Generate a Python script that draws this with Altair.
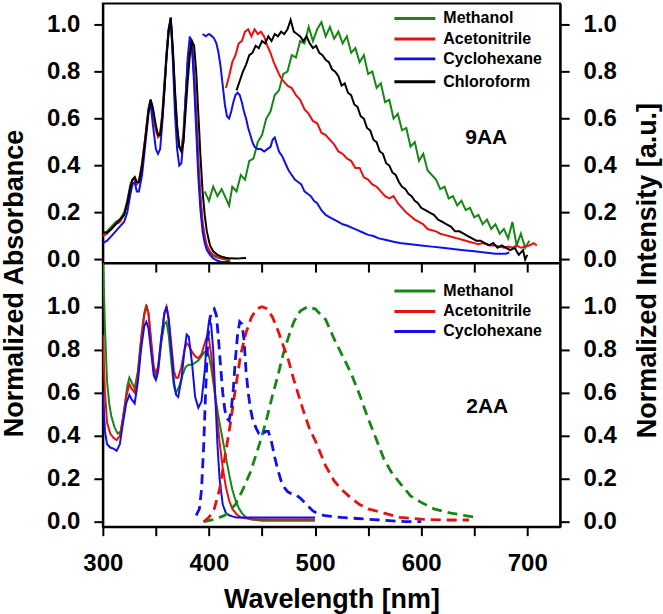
import altair as alt
import pandas as pd

FONT = "Liberation Sans"

SOLVENTS_9AA = ["Methanol", "Acetonitrile", "Cyclohexane", "Chloroform"]
SOLVENTS_2AA = ["Methanol", "Acetonitrile", "Cyclohexane"]
COLORS = ["#178617", "#e81010", "#1010e8", "#000000"]

X_TICKS = [300, 350, 400, 450, 500, 550, 600, 650, 700]
Y_TICKS = [0.0, 0.2, 0.4, 0.6, 0.8, 1.0]

# ---------------- 9AA absorption ----------------
ABS9_WL = [300, 304, 308, 312, 316, 320, 323, 326, 328, 330, 332, 334, 337, 340, 343,
           345, 347, 350, 352, 354, 356, 358, 360, 362, 364, 366, 368, 370, 372, 374,
           376, 378, 380, 382, 384, 386, 388, 390, 392, 394, 396, 398, 401, 404, 408,
           412, 416, 420]
ABS9_METHANOL = [0.11, 0.12, 0.14, 0.16, 0.17, 0.20, 0.25, 0.32, 0.34, 0.35, 0.32, 0.33, 0.41, 0.52, 0.64,
                 0.68, 0.63, 0.56, 0.53, 0.54, 0.62, 0.75, 0.88, 0.98, 1.02, 0.87, 0.69, 0.55, 0.48, 0.47,
                 0.54, 0.69, 0.84, 0.92, 0.91, 0.78, 0.60, 0.40, 0.25, 0.15, 0.09, 0.055, 0.03, 0.015, 0.008,
                 0.004, 0.0, -0.005]
ABS9_ACETONITRILE = [0.10, 0.11, 0.13, 0.15, 0.16, 0.19, 0.24, 0.31, 0.34, 0.35, 0.32, 0.33, 0.41, 0.52, 0.64,
                     0.68, 0.63, 0.55, 0.52, 0.53, 0.61, 0.74, 0.87, 0.98, 1.02, 0.88, 0.70, 0.56, 0.48, 0.46,
                     0.53, 0.68, 0.83, 0.92, 0.92, 0.80, 0.62, 0.42, 0.27, 0.16, 0.10, 0.06, 0.035, 0.02, 0.01,
                     0.005, 0.0, 0.0]
ABS9_CYCLOHEXANE = [0.07, 0.08, 0.10, 0.12, 0.14, 0.16, 0.20, 0.28, 0.32, 0.33, 0.29, 0.29, 0.36, 0.49, 0.62,
                    0.67, 0.58, 0.47, 0.45, 0.47, 0.58, 0.72, 0.86, 0.98, 1.03, 0.85, 0.62, 0.47, 0.40, 0.41,
                    0.51, 0.69, 0.86, 0.95, 0.91, 0.75, 0.55, 0.35, 0.21, 0.12, 0.07, 0.04, 0.02, 0.005, -0.005,
                    -0.01, -0.01, -0.01]
ABS9_CHL_WL = ABS9_WL + [425, 430, 435]
ABS9_CHLOROFORM = [0.115, 0.115, 0.13, 0.15, 0.17, 0.19, 0.24, 0.31, 0.34, 0.35, 0.33, 0.33, 0.40, 0.51, 0.63,
                   0.68, 0.65, 0.57, 0.53, 0.53, 0.60, 0.72, 0.86, 0.97, 1.03, 0.90, 0.72, 0.57, 0.48, 0.46,
                   0.50, 0.63, 0.76, 0.87, 0.93, 0.91, 0.80, 0.62, 0.44, 0.29, 0.19, 0.12, 0.06, 0.035, 0.02,
                   0.012, 0.008, 0.005, 0.004, 0.005, 0.007]

# ---------------- 9AA emission ----------------
EM9_METHANOL_WL = [396, 400, 404, 408, 412, 416, 419, 422, 426, 430, 434, 438, 442, 446, 450, 454, 458, 462,
                   466, 470, 474, 478, 482, 486, 490, 494, 498, 502, 506, 510, 514, 518, 522, 526, 530, 534,
                   538, 542, 546, 550, 554, 558, 562, 566, 570, 574, 578, 582, 586, 590, 594, 598, 602, 606,
                   610, 614, 618, 622, 626, 630, 634, 638, 642, 646, 650, 654, 658, 662, 666, 670, 674, 678,
                   682, 686, 690, 694, 698, 702]
EM9_METHANOL = [0.29, 0.25, 0.31, 0.27, 0.30, 0.26, 0.23, 0.31, 0.29, 0.36, 0.34, 0.42, 0.43, 0.50, 0.53, 0.60,
                0.63, 0.70, 0.72, 0.79, 0.80, 0.87, 0.86, 0.93, 0.92, 0.99, 0.93, 0.98, 1.01, 0.95, 0.99, 0.94,
                0.97, 0.92, 0.95, 0.88, 0.90, 0.84, 0.87, 0.79, 0.80, 0.73, 0.75, 0.67, 0.68, 0.60, 0.62, 0.55,
                0.56, 0.48, 0.50, 0.42, 0.45, 0.38, 0.36, 0.34, 0.30, 0.31, 0.26, 0.27, 0.23, 0.25, 0.21, 0.22,
                0.18, 0.19, 0.15, 0.17, 0.13, 0.15, 0.11, 0.13, 0.09, 0.16, 0.06, 0.11, 0.05, 0.08]
EM9_ACETONITRILE_WL = [416, 419, 422, 425, 428, 431, 434, 437, 440, 443, 446, 449, 452, 455, 458, 461, 464,
                       467, 470, 474, 478, 482, 486, 490, 494, 498, 502, 506, 510, 514, 518, 522, 526, 530,
                       534, 538, 542, 546, 550, 554, 558, 562, 566, 570, 574, 578, 582, 586, 590, 594, 598,
                       602, 606, 610, 614, 618, 622, 626, 630, 634, 638, 642, 646, 650, 654, 658, 662, 666,
                       670, 674, 678, 682, 686, 690, 694, 698, 702, 706, 709]
EM9_ACETONITRILE = [0.73, 0.78, 0.84, 0.87, 0.92, 0.93, 0.97, 0.98, 0.95, 0.98, 0.96, 0.97, 0.95, 0.91, 0.88,
                    0.84, 0.81, 0.78, 0.76, 0.74, 0.73, 0.70, 0.68, 0.64, 0.62, 0.59, 0.58, 0.54, 0.53, 0.51,
                    0.49, 0.46, 0.45, 0.43, 0.42, 0.39, 0.39, 0.35, 0.34, 0.32, 0.31, 0.29, 0.27, 0.26, 0.27,
                    0.24, 0.22, 0.20, 0.185, 0.17, 0.16, 0.15, 0.13, 0.125, 0.12, 0.11, 0.105, 0.10, 0.095,
                    0.09, 0.085, 0.08, 0.075, 0.07, 0.065, 0.07, 0.065, 0.06, 0.06, 0.055, 0.05, 0.055, 0.05,
                    0.06, 0.05, 0.055, 0.06, 0.07, 0.06]
EM9_CYCLOHEXANE_WL = [394, 397, 400, 403, 405, 407, 409, 411, 413, 415, 417, 419, 421, 423, 425, 427, 429, 431,
                      433, 435, 437, 439, 441, 443, 446, 449, 452, 455, 458, 460, 462, 464, 466, 469, 472, 475,
                      478, 481, 484, 487, 490, 493, 496, 499, 502, 506, 510, 514, 518, 522, 526, 530, 535, 540,
                      545, 550, 555, 560, 565, 570, 575, 580, 590, 600, 610, 620, 630, 640, 650, 660, 670, 680,
                      683]
EM9_CYCLOHEXANE = [0.96, 0.95, 0.96, 0.95, 0.94, 0.92, 0.88, 0.82, 0.74, 0.66, 0.61, 0.60, 0.63, 0.67, 0.70,
                   0.71, 0.70, 0.67, 0.63, 0.60, 0.56, 0.53, 0.50, 0.48, 0.47, 0.47, 0.46, 0.47, 0.48, 0.51,
                   0.52, 0.49, 0.46, 0.44, 0.41, 0.38, 0.36, 0.34, 0.33, 0.32, 0.29, 0.28, 0.27, 0.25, 0.24,
                   0.21, 0.19, 0.18, 0.17, 0.16, 0.15, 0.145, 0.135, 0.125, 0.115, 0.105, 0.10, 0.09, 0.085,
                   0.08, 0.075, 0.07, 0.065, 0.06, 0.055, 0.05, 0.045, 0.04, 0.035, 0.03, 0.025, 0.025, 0.03]
EM9_CHLOROFORM_WL = [426, 429, 432, 435, 438, 441, 444, 447, 450, 453, 456, 459, 462, 465, 468, 471, 474, 477,
                     480, 483, 486, 489, 492, 495, 498, 501, 504, 507, 510, 513, 516, 519, 522, 525, 528, 531,
                     534, 537, 540, 543, 546, 549, 552, 555, 558, 561, 564, 567, 570, 573, 576, 579, 582, 585,
                     588, 591, 594, 597, 600, 604, 608, 612, 616, 620, 624, 628, 632, 636, 640, 644, 648, 652,
                     656, 660, 664, 668, 672, 676, 680, 684, 688, 692, 696, 698, 700]
EM9_CHLOROFORM = [0.72, 0.76, 0.80, 0.83, 0.87, 0.88, 0.91, 0.90, 0.93, 0.92, 0.95, 0.93, 0.96, 0.95, 0.97,
                  0.96, 0.98, 1.02, 0.97, 0.96, 0.95, 0.93, 0.95, 0.92, 0.90, 0.91, 0.88, 0.87, 0.85, 0.84,
                  0.81, 0.80, 0.78, 0.74, 0.75, 0.71, 0.70, 0.66, 0.65, 0.61, 0.60, 0.56, 0.55, 0.51, 0.50,
                  0.46, 0.45, 0.41, 0.40, 0.37, 0.36, 0.33, 0.31, 0.30, 0.28, 0.27, 0.25, 0.24, 0.22, 0.21,
                  0.20, 0.19, 0.17, 0.16, 0.15, 0.14, 0.12, 0.12, 0.11, 0.10, 0.09, 0.08, 0.08, 0.07, 0.06,
                  0.07, 0.05, 0.06, 0.05, 0.04, 0.05, 0.02, 0.04, 0.0, 0.02]

# ---------------- 2AA absorption ----------------
ABS2_METHANOL_WL = [300, 302, 304, 306, 308, 311, 314, 317, 320, 323, 325, 327, 330, 333, 336, 339, 341, 343,
                    346, 348, 350, 352, 355, 358, 360, 362, 365, 367, 369, 372, 375, 378, 381, 384, 387, 390,
                    393, 396, 398, 400, 402, 404, 406, 408, 410, 413, 416, 419, 422, 425, 428, 431, 435, 440,
                    450, 470, 500]
ABS2_METHANOL = [1.25, 0.90, 0.65, 0.55, 0.49, 0.44, 0.41, 0.42, 0.52, 0.63, 0.67, 0.65, 0.62, 0.70, 0.85,
                 0.97, 1.01, 0.97, 0.80, 0.70, 0.66, 0.70, 0.83, 0.92, 0.93, 0.87, 0.72, 0.63, 0.60, 0.63,
                 0.68, 0.72, 0.73, 0.73, 0.74, 0.75, 0.77, 0.79, 0.79, 0.77, 0.72, 0.65, 0.58, 0.52, 0.46,
                 0.38, 0.30, 0.22, 0.15, 0.10, 0.065, 0.04, 0.02, 0.01, 0.005, 0.005, 0.005]
ABS2_WL = [300, 302, 304, 307, 310, 313, 316, 319, 322, 325, 327, 330, 333, 336, 339, 341, 343, 346, 348, 350,
           352, 355, 358, 360, 362, 365, 367, 369, 371, 374, 377, 379, 381, 384, 387, 390, 393, 396, 398, 400,
           402, 404, 406, 408, 410, 413, 416, 419, 422, 426, 430, 440, 460, 500]
ABS2_ACETONITRILE = [0.87, 0.60, 0.46, 0.41, 0.39, 0.38, 0.40, 0.48, 0.58, 0.64, 0.62, 0.60, 0.68, 0.84, 0.96,
                     1.00, 0.97, 0.82, 0.72, 0.69, 0.72, 0.85, 0.97, 1.00, 0.95, 0.80, 0.70, 0.67, 0.67, 0.72,
                     0.80, 0.83, 0.82, 0.79, 0.77, 0.76, 0.78, 0.83, 0.86, 0.85, 0.78, 0.68, 0.58, 0.47, 0.37,
                     0.25, 0.16, 0.10, 0.06, 0.035, 0.02, 0.012, 0.01, 0.01]
ABS2_CYCLOHEXANE = [0.61, 0.42, 0.36, 0.345, 0.34, 0.33, 0.36, 0.46, 0.55, 0.59, 0.57, 0.55, 0.65, 0.80, 0.91,
                    0.93, 0.90, 0.77, 0.68, 0.66, 0.70, 0.85, 0.97, 1.00, 0.94, 0.77, 0.65, 0.59, 0.58, 0.66,
                    0.80, 0.87, 0.86, 0.74, 0.58, 0.53, 0.56, 0.70, 0.85, 0.93, 0.92, 0.80, 0.58, 0.36, 0.20,
                    0.08, 0.04, 0.03, 0.025, 0.02, 0.02, 0.02, 0.02, 0.02]

# ---------------- 2AA emission (dashed) ----------------
EM2_METHANOL_WL = [395, 405, 415, 425, 432, 439, 445, 450, 455, 460, 465, 470, 475, 480, 486, 493, 500, 510,
                   518, 526, 534, 542, 550, 558, 565, 572, 580, 590, 600, 612, 628, 640, 652]
EM2_METHANOL = [0.0, 0.01, 0.03, 0.08, 0.15, 0.23, 0.32, 0.40, 0.49, 0.59, 0.68, 0.78, 0.86, 0.93, 0.98, 1.00,
                0.99, 0.94, 0.85, 0.77, 0.69, 0.59, 0.48, 0.38, 0.29, 0.23, 0.18, 0.12, 0.09, 0.06, 0.04,
                0.03, 0.02]
EM2_ACETONITRILE_WL = [395, 400, 405, 410, 415, 420, 425, 430, 435, 440, 445, 450, 455, 460, 465, 470, 475,
                       480, 485, 490, 495, 500, 505, 510, 518, 525, 534, 542, 550, 565, 580, 600, 620, 645]
EM2_ACETONITRILE = [0.0, 0.02, 0.06, 0.15, 0.30, 0.45, 0.62, 0.78, 0.88, 0.95, 0.99, 1.00, 0.99, 0.95, 0.89,
                    0.82, 0.75, 0.66, 0.58, 0.50, 0.43, 0.38, 0.32, 0.26, 0.19, 0.15, 0.11, 0.08, 0.06, 0.04,
                    0.02, 0.012, 0.008, 0.008]
EM2_CYCLOHEXANE_WL = [388, 391, 393, 395, 397, 399, 401, 403, 405, 407, 409, 411, 413, 415, 417, 419, 421, 423,
                      425, 427, 429, 431, 433, 435, 437, 439, 441, 444, 447, 450, 453, 456, 459, 462, 465, 468,
                      471, 474, 478, 482, 486, 490, 494, 498, 502, 508, 515, 525, 540, 555, 570, 585, 600]
EM2_CYCLOHEXANE = [0.03, 0.06, 0.15, 0.35, 0.62, 0.85, 0.95, 0.98, 0.99, 0.96, 0.85, 0.72, 0.60, 0.52, 0.48,
                   0.47, 0.52, 0.62, 0.76, 0.87, 0.93, 0.92, 0.85, 0.70, 0.60, 0.53, 0.48, 0.44, 0.41, 0.40,
                   0.42, 0.42, 0.37, 0.30, 0.24, 0.19, 0.16, 0.14, 0.13, 0.125, 0.11, 0.09, 0.07, 0.05, 0.04,
                   0.03, 0.025, 0.02, 0.015, 0.01, 0.005, 0.0, 0.0]


def frame(series):
    parts = [pd.DataFrame({"wl": wl, "v": vals, "solvent": name}) for name, wl, vals in series]
    return pd.concat(parts, ignore_index=True)


abs9 = frame([("Methanol", ABS9_WL, ABS9_METHANOL), ("Acetonitrile", ABS9_WL, ABS9_ACETONITRILE),
              ("Cyclohexane", ABS9_WL, ABS9_CYCLOHEXANE), ("Chloroform", ABS9_CHL_WL, ABS9_CHLOROFORM)])
em9 = frame([("Methanol", EM9_METHANOL_WL, EM9_METHANOL), ("Acetonitrile", EM9_ACETONITRILE_WL, EM9_ACETONITRILE),
             ("Cyclohexane", EM9_CYCLOHEXANE_WL, EM9_CYCLOHEXANE), ("Chloroform", EM9_CHLOROFORM_WL, EM9_CHLOROFORM)])
abs2 = frame([("Methanol", ABS2_METHANOL_WL, ABS2_METHANOL), ("Acetonitrile", ABS2_WL, ABS2_ACETONITRILE),
              ("Cyclohexane", ABS2_WL, ABS2_CYCLOHEXANE)])
em2 = frame([("Methanol", EM2_METHANOL_WL, EM2_METHANOL), ("Acetonitrile", EM2_ACETONITRILE_WL, EM2_ACETONITRILE),
             ("Cyclohexane", EM2_CYCLOHEXANE_WL, EM2_CYCLOHEXANE)])

W = 458
H_TOP = 260
H_BOT = 264
X_DOMAIN = [300, 731]

color_enc = alt.Color("solvent:N", scale=alt.Scale(domain=SOLVENTS_9AA, range=COLORS), legend=None)


def y_axis(orient, title=None, tx=0, ty=0):
    kw = dict(values=Y_TICKS, format=".1f", orient=orient, tickSize=9, labelPadding=14,
              labelFlush=False, labelOverlap=False, grid=False)
    if title:
        kw.update(title=title, titleAngle=270, titleX=tx, titleY=ty, titleBaseline="middle",
                  titleAlign="center", titleFontSize=27)
    else:
        kw.update(title=None)
    return alt.Axis(**kw)


def legend_layers(names, rows):
    layers = []
    for name, ly in zip(names, rows):
        d = pd.DataFrame({"solvent": [name]})
        layers.append(alt.Chart(d).mark_rule(strokeWidth=3).encode(
            x=alt.value(292), x2=alt.value(333), y=alt.value(ly), color=color_enc))
        layers.append(alt.Chart(d).mark_text(align="left", baseline="middle", fontSize=16,
                                             fontWeight="bold", font=FONT, color="black").encode(
            x=alt.value(341), y=alt.value(ly), text="solvent:N"))
    return layers


# ---------------- top panel (9AA) ----------------
x_top = alt.X("wl:Q", scale=alt.Scale(domain=X_DOMAIN, nice=False, zero=False),
              axis=alt.Axis(values=X_TICKS[1:], labels=False, title=None, tickSize=9, grid=False))
ys_top = alt.Scale(domain=[-0.015, 1.09], nice=False, zero=False)

abs_top = alt.Chart(abs9).mark_line(strokeWidth=2, clip=True).encode(
    x=x_top, y=alt.Y("v:Q", scale=ys_top, axis=y_axis("left", "Normalized Absorbance", -88, 280)),
    color=color_enc)
em_top = alt.Chart(em9).mark_line(strokeWidth=2, clip=True).encode(
    x=x_top, y=alt.Y("v:Q", scale=ys_top, axis=y_axis("right", "Normalized Intensity [a.u.]", 87, 267)),
    color=color_enc)
label_top = alt.Chart(pd.DataFrame({"label": ["9AA"]})).mark_text(
    fontSize=21, fontWeight="bold", font=FONT, color="black", align="center", baseline="middle").encode(
    x=alt.value(384), y=alt.value(135), text="label:N")

top = alt.layer(abs_top, em_top, *legend_layers(SOLVENTS_9AA, [15, 35.5, 55.5, 78.5]), label_top).resolve_scale(
    y="independent").properties(width=W, height=H_TOP)

# ---------------- bottom panel (2AA) ----------------
x_bot = alt.X("wl:Q", scale=alt.Scale(domain=X_DOMAIN, nice=False, zero=False),
              axis=alt.Axis(values=X_TICKS, format="d", labelExpr="datum.value % 100 == 0 ? datum.label : ''",
                            title="Wavelength [nm]", titleFontSize=27, titleY=81, titleBaseline="alphabetic",
                            tickSize=9, labelPadding=16, labelFlush=False, labelOverlap=False, grid=False))
ys_bot = alt.Scale(domain=[-0.023, 1.203], nice=False, zero=False)

abs_bot = alt.Chart(abs2).mark_line(strokeWidth=2, clip=True).encode(
    x=x_bot, y=alt.Y("v:Q", scale=ys_bot, axis=y_axis("left")), color=color_enc)
em_bot = alt.Chart(em2).mark_line(strokeWidth=2.8, strokeDash=[10, 6], clip=True).encode(
    x=x_bot, y=alt.Y("v:Q", scale=ys_bot, axis=y_axis("right")), color=color_enc)
label_bot = alt.Chart(pd.DataFrame({"label": ["2AA"]})).mark_text(
    fontSize=21, fontWeight="bold", font=FONT, color="black", align="center", baseline="middle").encode(
    x=alt.value(385), y=alt.value(144), text="label:N")

bottom = alt.layer(abs_bot, em_bot, *legend_layers(SOLVENTS_2AA, [28, 48.5, 68.5]), label_bot).resolve_scale(
    y="independent").properties(width=W, height=H_BOT)

chart = alt.vconcat(top, bottom, spacing=0, bounds="flush").properties(
    padding={"left": 0, "top": 2, "right": 2, "bottom": 0},
    background="white",
).configure_view(stroke="black", strokeWidth=2).configure_axis(
    labelFont=FONT, labelFontSize=24, labelFontWeight="bold", labelColor="black",
    titleFont=FONT, titleFontWeight="bold", titleColor="black",
    tickColor="black", tickWidth=2, domainColor="black", domainWidth=2,
)

chart.save("out.html", embed_options={"renderer": "svg", "actions": False})
